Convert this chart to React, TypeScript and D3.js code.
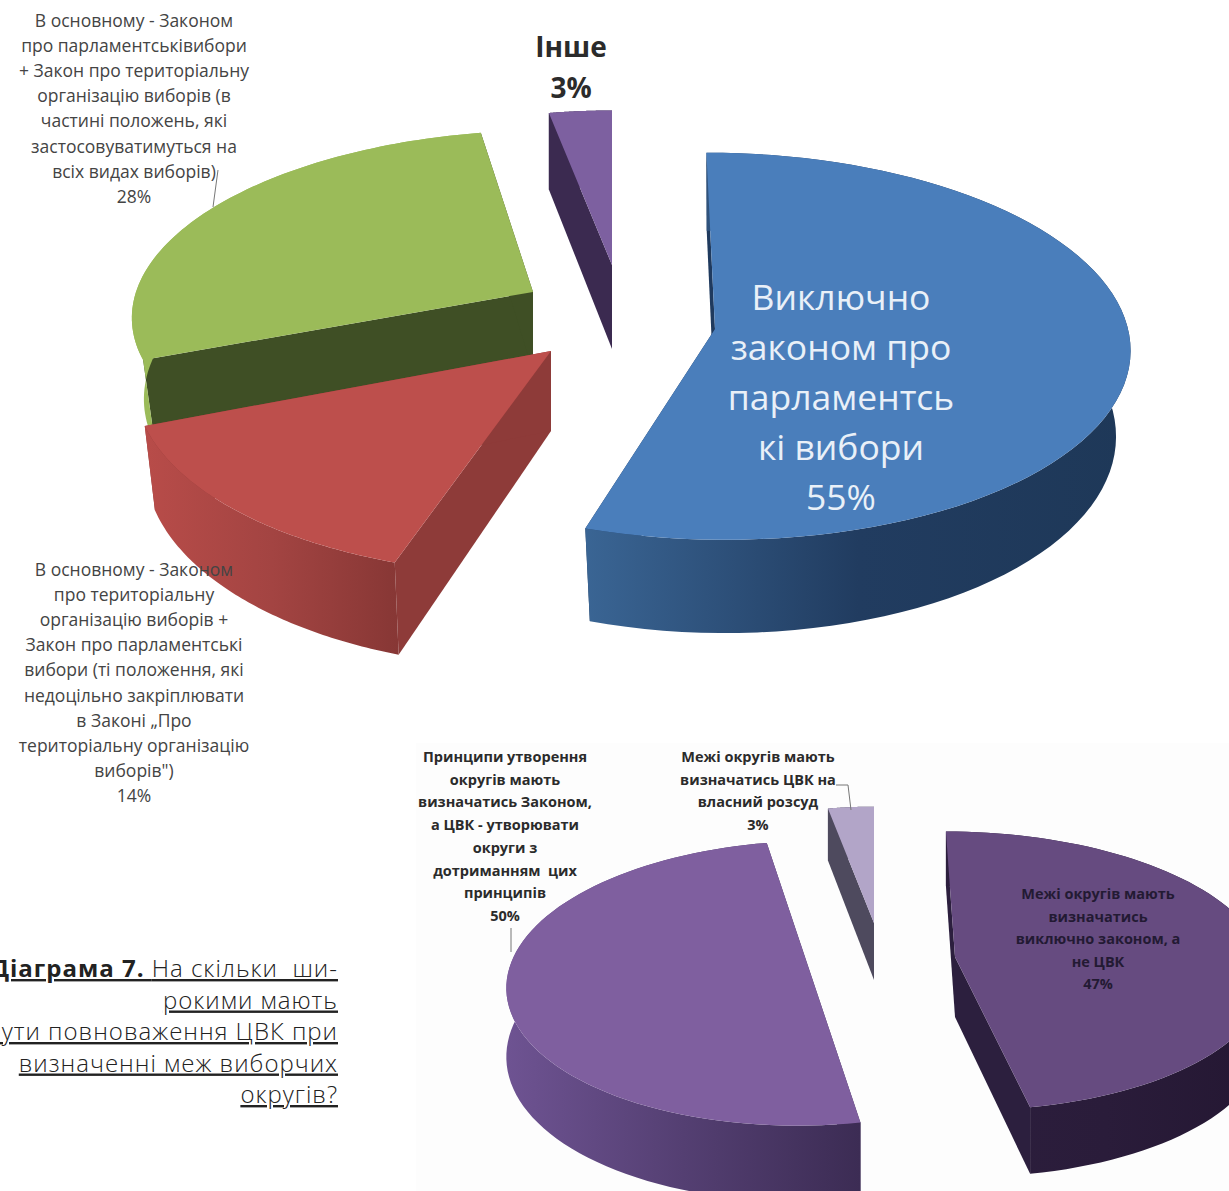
import React from 'react';
import * as d3 from 'd3';

const WIDTH = 1229;
const HEIGHT = 1191;

// first pie: share of respondents, clockwise from 12 o'clock
const lawValues = [55, 14, 28, 3];
const lawColors = ['#4a7ebb', '#bd4f4c', '#9bbb59', '#7d60a0'];
// second pie
const cvkValues = [47, 50, 3];
const cvkColors = ['#664b80', '#7f5f9f', '#b2a5c8'];

const captionLines = ['На скільки  ши-', 'рокими мають', 'бути повноваження ЦВК при', 'визначенні меж виборчих', 'округів?'];

const greenLabel = [
  'В основному - Законом',
  'про парламентськівибори',
  '+ Закон про територіальну',
  'організацію виборів (в',
  'частині положень, які',
  'застосовуватимуться на',
  'всіх видах виборів)',
  '28%',
];
const redLabel = [
  'В основному - Законом',
  'про територіальну',
  'організацію виборів +',
  'Закон про парламентські',
  'вибори (ті положення, які',
  'недоцільно закріплювати',
  'в Законі „Про',
  'територіальну організацію',
  'виборів")',
  '14%',
];
const blueLabel = ['Виключно', 'законом про', 'парламентсь', 'кі вибори', '55%'];
const otherLabel = ['Інше', '3%'];
const mediumLabel = [
  'Принципи утворення',
  'округів мають',
  'визначатись Законом,',
  'а ЦВК - утворювати',
  'округи з',
  'дотриманням  цих',
  'принципів',
  '50%',
];
const lightLabel = ['Межі округів мають', 'визначатись ЦВК на', 'власний розсуд', '3%'];
const darkLabel = ['Межі округів мають', 'визначатись', 'виключно законом, а', 'не ЦВК', '47%'];

interface Geo {
  ax: number;
  ay: number;
  rx: number;
  ry: number;
  t: number; // perspective strength
  k: number; // shift towards the vanishing point
  depth: number;
  shrink: number; // the underside is a little narrower than the top
  wall: string[];
  cut: string;
}

const lawGeo: Geo[] = [
  { ax: 715, ay: 329, rx: 413, ry: 192, t: 0.089, k: 105, depth: 85, shrink: 0.035, wall: ['#3a6594', '#213c60', '#1e3858'], cut: '#1f3a5e' },
  { ax: 551, ay: 351, rx: 411, ry: 193, t: 0.139, k: -65, depth: 80, shrink: 0.025, wall: ['#b84c49', '#a34442', '#873735'], cut: '#8e3b39' },
  { ax: 533, ay: 292, rx: 397, ry: 178, t: 0.1, k: -174, depth: 80, shrink: 0.03, wall: ['#9bbb59', '#9bbb59', '#9bbb59'], cut: '#3f4f25' },
  { ax: 612, ay: 265, rx: 370, ry: 170, t: 0.1, k: 0, depth: 84, shrink: 0, wall: ['#3b2a50', '#3b2a50', '#3b2a50'], cut: '#3b2a50' },
];
const cvkGeo: Geo[] = [
  { ax: 955, ay: 957, rx: 309, ry: 138, t: 0.1, k: 100, depth: 60, shrink: 0, wall: ['#2c1e3d', '#2a1c3a', '#241732'], cut: '#2c1f3e' },
  { ax: 809, ay: 969, rx: 300, ry: 141, t: 0.1, k: -100, depth: 68, shrink: 0, wall: ['#6e5392', '#543f72', '#3c2c54'], cut: '#3c2c54' },
  { ax: 874, ay: 923, rx: 270, ry: 128, t: 0.1, k: 0, depth: 57, shrink: 0, wall: ['#4e4a5e', '#4e4a5e', '#4e4a5e'], cut: '#4e4a5e' },
];

const project = (g: Geo, a: number, r: number, z: number): [number, number] => {
  const X = Math.sin(a) * r;
  const Y = Math.cos(a) * r;
  const s = 1 / (1 + g.t * Y);
  const dx = X * g.rx * s + g.k * (s - 1);
  return [g.ax + dx * (1 - g.shrink * z), g.ay - Y * g.ry * s + g.depth * s * z];
};

const line = d3.line();

function Slice({ id, g, a0, a1, color }: { id: string; g: Geo; a0: number; a1: number; color: string }) {
  const steps = d3.range(0, 81).map((i) => a0 + ((a1 - a0) * i) / 80);
  const rimTop = steps.map((a) => project(g, a, 1, 0));
  const rimBottom = steps.map((a) => project(g, a, 1, 1)).reverse();
  const face = (a: number) => [project(g, a, 0, 0), project(g, a, 1, 0), project(g, a, 1, 1), project(g, a, 0, 1)] as [number, number][];
  return (
    <g>
      <defs>
        <linearGradient id={id}>
          {g.wall.map((c, i) => (
            <stop key={i} offset={`${i * 50}%`} stopColor={c} />
          ))}
        </linearGradient>
      </defs>
      <path d={`${line(face(a0))}Z`} fill={g.cut} />
      <path d={`${line(face(a1))}Z`} fill={g.cut} />
      <path d={`${line([...rimTop, ...rimBottom])}Z`} fill={`url(#${id})`} />
      <path d={`${line([project(g, a0, 0, 0), ...rimTop])}Z`} fill={color} />
    </g>
  );
}

function Lines({ lines, x, y, dy, size, color, weight, font }: { lines: string[]; x: number; y: number; dy: number; size: number; color: string; weight?: number; font: string }) {
  return (
    <text x={x} y={y} textAnchor="middle" fontSize={size} fill={color} fontWeight={weight} fontFamily={font} style={{ whiteSpace: 'pre' }}>
      {lines.map((l, i) => (
        <tspan key={i} x={x} y={y + i * dy}>
          {l}
        </tspan>
      ))}
    </text>
  );
}

export default function App() {
  const pie = d3.pie<number>().sort(null).value((d) => d);
  const law = pie(lawValues);
  const cvk = pie(cvkValues);
  // painter's order: the slices further back go first
  const lawOrder = [3, 2, 0, 1];
  const cvkOrder = [2, 1, 0];

  return (
    <svg width={WIDTH} height={HEIGHT} style={{ position: 'absolute', left: 0, top: 0, background: '#fff' }}>
      <rect x={416} y={743} width={813} height={448} fill="#fdfdfd" />

      {lawOrder.map((i) => (
        <Slice key={i} id={`law${i}`} g={lawGeo[i]} a0={law[i].startAngle} a1={law[i].endAngle} color={lawColors[i]} />
      ))}
      {cvkOrder.map((i) => (
        <Slice key={i} id={`cvk${i}`} g={cvkGeo[i]} a0={cvk[i].startAngle} a1={cvk[i].endAngle} color={cvkColors[i]} />
      ))}

      <path d="M218,170L213,207" stroke="#777" fill="none" />
      <path d="M836,785H848L851,810" stroke="#777" fill="none" />
      <path d="M511,928V952" stroke="#777" fill="none" />

      <Lines lines={greenLabel} x={134} y={27} dy={25.1} size={17.5} color="#444" font="Open Sans" />
      <Lines lines={redLabel} x={134} y={576} dy={25.1} size={17.5} color="#444" font="Open Sans" />
      <Lines lines={otherLabel} x={571} y={57} dy={41} size={28} color="#2b2b2b" weight={700} font="Open Sans" />
      <Lines lines={blueLabel} x={841} y={310} dy={50} size={35.5} color="#e9f0f8" font="Open Sans" />
      <Lines lines={mediumLabel} x={505} y={762} dy={22.7} size={14.5} color="#2b2b2b" weight={700} font="Open Sans" />
      <Lines lines={lightLabel} x={758} y={762} dy={22.7} size={14.5} color="#2b2b2b" weight={700} font="Open Sans" />
      <Lines lines={darkLabel} x={1098} y={899} dy={22.5} size={14.5} color="#231a33" weight={700} font="Open Sans" />

      <text fontFamily="Open Sans" fontSize={24} fontWeight={300} letterSpacing={1} fill="#222" textAnchor="end" textDecoration="underline" style={{ whiteSpace: 'pre' }}>
        {captionLines.map((l, i) => (
          <tspan key={i} x={338} y={977 + i * 31.5}>
            {i === 0 && <tspan fontWeight={700}>Діаграма 7. </tspan>}
            {l}
          </tspan>
        ))}
      </text>
    </svg>
  );
}
